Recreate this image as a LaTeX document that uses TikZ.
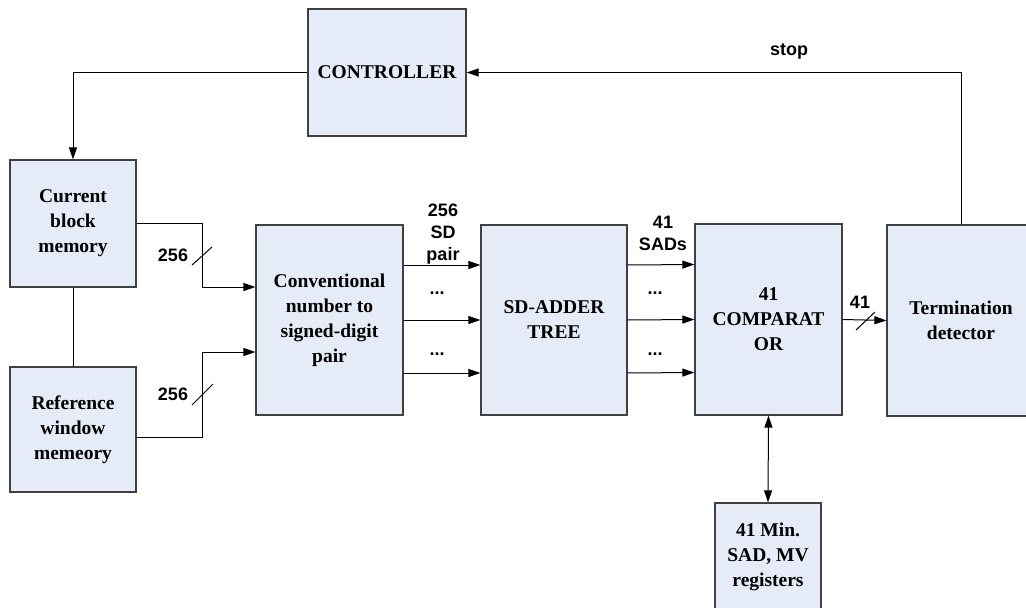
\documentclass[tikz,border=0pt]{standalone}
\usepackage{fontspec}
\setmainfont{Liberation Serif}
\newfontfamily\labfont{Liberation Sans}
\usetikzlibrary{arrows.meta}
\definecolor{boxfill}{HTML}{E6ECF7}
\definecolor{boxline}{HTML}{404040}

\begin{document}
\begin{tikzpicture}[x=1pt, y=-1pt, block/.style={draw=boxline, line width=1.2pt, fill=boxfill, align=center, inner sep=0pt, font=\bfseries\fontsize{19.5}{25}\selectfont}, wire/.style={-{Triangle[length=12pt, width=8pt]}, line width=1pt}, plain/.style={line width=1pt}, label/.style={font=\labfont\bfseries\fontsize{18}{22}\selectfont, align=center}]
\clip (0,0) rectangle (1026,608);

\node[block, minimum width=158pt, minimum height=127pt] (ctrl) at (387,72.5) {CONTROLLER};
\node[block, minimum width=126pt, minimum height=127pt] (cur) at (73,223.5) {Current\\block\\memory};
\node[block, minimum width=126pt, minimum height=125pt] (ref) at (73,429.5) {Reference\\window\\memeory};
\node[block, minimum width=147pt, minimum height=190pt] (conv) at (329.5,320) {Conventional\\number to\\signed-digit\\pair};
\node[block, minimum width=146pt, minimum height=190pt] (sdt) at (554,320) {SD-ADDER\\TREE};
\node[block, minimum width=147pt, minimum height=191pt] (cmp) at (768.5,319.5) {41\\COMPARAT\\OR};
\node[block, minimum width=148pt, minimum height=191pt] (term) at (961,320.5) {Termination\\detector};
\node[block, minimum width=106pt, minimum height=108pt] (reg) at (768,557) {41 Min.\\SAD, MV\\registers};

\draw[wire] (ctrl.west) -| (cur.north); \draw[plain] (cur.south) -- (ref.north);
\draw[wire] (cur.east) -- ++(66,0) |- ([yshift=33pt]conv.west); \draw[wire] ([yshift=-7.5pt]ref.east) -- ++(66,0) |- ([yshift=-32pt]conv.west);
\draw[plain] (192,265) -- (212,247); \node[label] (n1) at (173,255) {256}; \draw[plain] (192,405) -- (213,384); \node[label] (n2) at (173,394) {256};
\foreach \d in {55,0,-53} {\draw[wire] ([yshift=\d pt]conv.east) -- ([yshift=\d pt]sdt.west); \draw[wire] ([yshift=\d pt]sdt.east) -- ([yshift=\d pt]cmp.west);}
\node[label] (d1) at (437,293) {...}; \node[label] (d2) at (437,354) {...}; \node[label] (d3) at (655,293) {...}; \node[label] (d4) at (655,354) {...};
\node[label] (sd) at (443,234) {256\\SD\\pair}; \node[label] (sads) at (663,233.5) {41\\SADs};
\draw[wire] (cmp.east) -- (term.west); \draw[plain] (856,330) -- (875,312); \node[label] (n3) at (860,302) {41};
\draw[wire] (term.north) |- (ctrl.east); \node[label] (stop) at (789,51) {stop};
\draw[{Triangle[length=12pt, width=8pt]}-{Triangle[length=12pt, width=8pt]}, line width=1pt] (cmp.south) -- (reg.north);
\end{tikzpicture}
\end{document}
